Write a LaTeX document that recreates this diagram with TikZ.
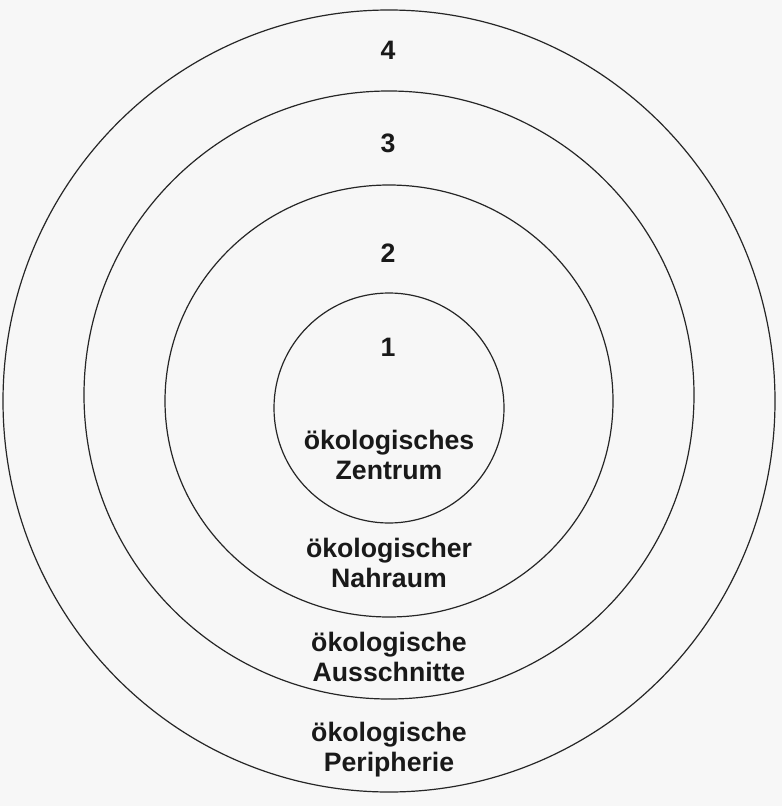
\documentclass[tikz,border=0pt]{standalone}
\usepackage{fontspec}
\setmainfont{Liberation Sans}
\begin{document}
\begin{tikzpicture}[x=0.75pt,y=-0.75pt,
  ring/.style={draw=black!85, line width=0.9pt},
  lbl/.style={font=\bfseries\fontsize{20}{22.5}\selectfont, align=center, text=black!90, inner sep=0pt}]
\fill[black!3] (0,0) rectangle (782,806);
\useasboundingbox (0,0) rectangle (782,806);
\draw[ring] (389,401) ellipse [x radius=386, y radius=391];
\draw[ring] (389,395) ellipse [x radius=305, y radius=304];
\draw[ring] (389,401) ellipse [x radius=224, y radius=216];
\draw[ring] (389,408) ellipse [x radius=115, y radius=115];
\node[lbl] (n4) at (388,50) {4};
\node[lbl] (n3) at (388,143) {3};
\node[lbl] (n2) at (388,253) {2};
\node[lbl] (n1) at (388,347) {1};
\node[lbl] (t1) at (389,455) {ökologisches\\Zentrum};
\node[lbl] (t2) at (389,563) {ökologischer\\Nahraum};
\node[lbl] (t3) at (389,657) {ökologische\\Ausschnitte};
\node[lbl] (t4) at (389,750) {ökologische\\Peripherie};
\end{tikzpicture}
\end{document}
